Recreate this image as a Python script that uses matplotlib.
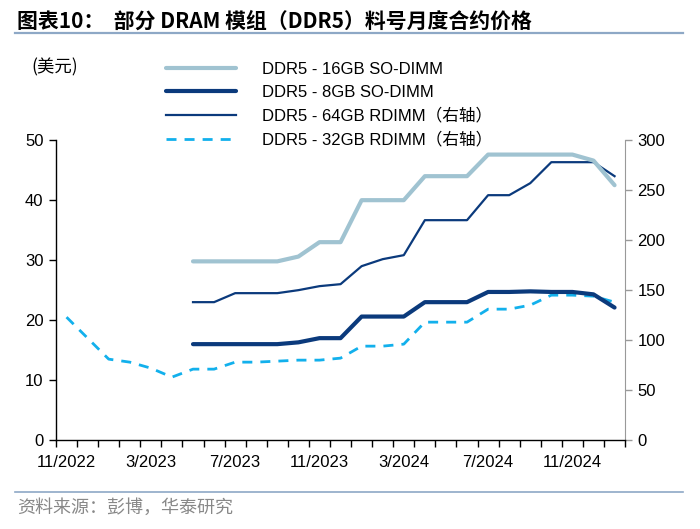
import numpy as np
import matplotlib.pyplot as plt
from matplotlib.lines import Line2D

plt.rcParams['font.family'] = ['Liberation Sans', 'Noto Sans CJK SC']

# months 11/2022 .. 1/2025
months = ['11/2022', '12/2022', '1/2023', '2/2023', '3/2023', '4/2023', '5/2023',
          '6/2023', '7/2023', '8/2023', '9/2023', '10/2023', '11/2023', '12/2023',
          '1/2024', '2/2024', '3/2024', '4/2024', '5/2024', '6/2024', '7/2024',
          '8/2024', '9/2024', '10/2024', '11/2024', '12/2024', '1/2025']
shown_labels = ['11/2022', '3/2023', '7/2023', '11/2023', '3/2024', '7/2024', '11/2024']

nan = np.nan
so16 = [nan, nan, nan, nan, nan, nan, 29.8, 29.8, 29.8, 29.8, 29.8, 30.6, 33.0, 33.0,
        40.0, 40.0, 40.0, 44.0, 44.0, 44.0, 47.6, 47.6, 47.6, 47.6, 47.6, 46.6, 42.5]
so8 = [nan, nan, nan, nan, nan, nan, 16.0, 16.0, 16.0, 16.0, 16.0, 16.3, 17.0, 17.0,
       20.6, 20.6, 20.6, 23.0, 23.0, 23.0, 24.7, 24.7, 24.8, 24.7, 24.7, 24.3, 22.1]
rd64 = [nan, nan, nan, nan, nan, nan, 138, 138, 147, 147, 147, 150, 154, 156,
        174, 181, 185, 220, 220, 220, 245, 245, 257, 278, 278, 278, 264]
rd32 = [123, 102, 81, 78, 72, 63, 71, 71, 78, 78, 79, 80, 80, 82,
        94, 94, 96, 118, 118, 118, 131, 131, 135, 145, 145, 144, 138]

c_light = '#A0C3D1'
c_dark = '#0B3A7C'
c_dash = '#12B0EC'

fig = plt.figure(figsize=(7, 5.29), dpi=100)
ax = fig.add_axes([0.08, 0.168, 0.813, 0.567])
ax2 = ax.twinx()

x = np.arange(len(months)) + 0.5

ax2.plot(x, rd32, color=c_dash, lw=2, dashes=(3.6, 2.9), zorder=1)
ax2.plot(x, rd64, color=c_dark, lw=1.6, zorder=2)
ax.plot(x, so16, color=c_light, lw=3, solid_capstyle='round', zorder=3)
ax.plot(x, so8, color=c_dark, lw=3, solid_capstyle='round', zorder=4)
# left-axis lines above the right-axis ones
ax.set_zorder(ax2.get_zorder() + 1)
ax.patch.set_visible(False)

ax.set_xlim(0, len(months))
ax.set_ylim(0, 50)
ax2.set_ylim(0, 300)
ax.set_yticks(range(0, 51, 10))
ax2.set_yticks(range(0, 301, 50))

ax.set_xticks(np.arange(0, len(months) + 1))
ax.set_xticklabels([])
label_pos = [months.index(m) + 0.5 for m in shown_labels]
ax.set_xticks(label_pos, minor=True)
ax.set_xticklabels(shown_labels, minor=True)
ax.tick_params(axis='x', which='major', length=5, width=1, direction='out')
ax.tick_params(axis='x', which='minor', length=0, pad=11, labelsize=12)
ax.tick_params(axis='y', length=5, width=1, labelsize=12, pad=4)
ax2.tick_params(axis='y', length=5, width=1, colors='#999999', labelcolor='black',
                labelsize=12, pad=4)

for a in (ax, ax2):
    a.spines['top'].set_visible(False)
ax.spines['right'].set_visible(False)
ax2.spines['left'].set_visible(False)
ax2.spines['bottom'].set_visible(False)
ax2.spines['right'].set_color('#999999')
ax.spines['left'].set_linewidth(1)
ax.spines['bottom'].set_linewidth(1)

handles = [
    Line2D([], [], color=c_light, lw=3, solid_capstyle='round'),
    Line2D([], [], color=c_dark, lw=3, solid_capstyle='round'),
    Line2D([], [], color=c_dark, lw=1.6),
    Line2D([], [], color=c_dash, lw=2, dashes=(3.6, 2.9)),
]
labels = ['DDR5 - 16GB SO-DIMM', 'DDR5 - 8GB SO-DIMM',
          'DDR5 - 64GB RDIMM（右轴）', 'DDR5 - 32GB RDIMM（右轴）']
fig.legend(handles, labels, loc='upper left', bbox_to_anchor=(0.227, 0.895),
           frameon=False, fontsize=12, handlelength=4.25, handletextpad=1.55,
           labelspacing=0.47, borderaxespad=0)

fig.text(0.045, 0.873, '(美元)', fontsize=12.5, va='center', family=['Noto Sans CJK SC'])

fig.text(0.024, 0.96, '图表10：  部分 DRAM 模组（DDR5）料号月度合约价格', fontsize=15,
         fontweight='bold', va='center', family=['Noto Sans CJK SC'])
fig.add_artist(Line2D([0.021, 0.976], [0.937, 0.937], color='#8EA8C6', lw=1.6))
fig.add_artist(Line2D([0.021, 0.976], [0.069, 0.069], color='#8EA8C6', lw=1.2))
fig.text(0.024, 0.04, '资料来源：彭博，华泰研究', fontsize=13, color='#888888',
         va='center', family=['Noto Sans CJK SC'])

fig.savefig('out.png', dpi=100)
